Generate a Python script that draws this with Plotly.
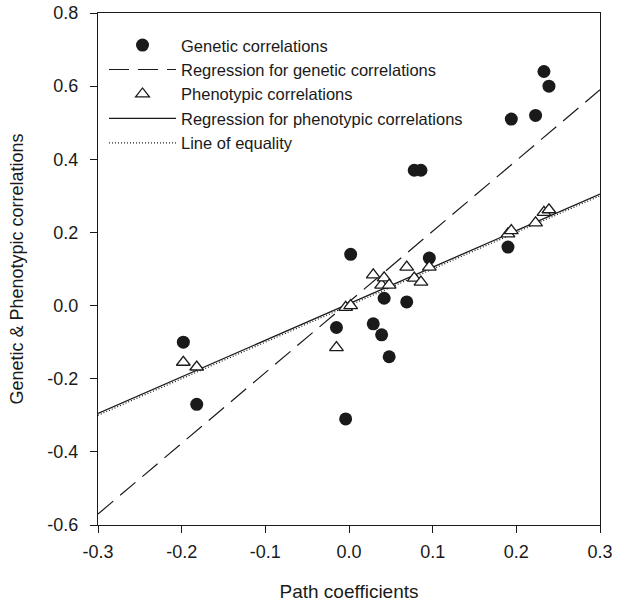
import plotly.graph_objects as go

path_coef = [-0.198, -0.182, -0.015, -0.004, 0.002, 0.029, 0.039, 0.042, 0.048,
             0.069, 0.078, 0.086, 0.096, 0.190, 0.194, 0.223, 0.233, 0.239]
genetic = [-0.10, -0.27, -0.06, -0.31, 0.14, -0.05, -0.08, 0.02, -0.14,
           0.01, 0.37, 0.37, 0.13, 0.16, 0.51, 0.52, 0.64, 0.60]
phenotypic = [-0.155, -0.168, -0.115, -0.005, 0.0, 0.084, 0.056, 0.076, 0.056,
              0.105, 0.075, 0.064, 0.105, 0.196, 0.205, 0.226, 0.255, 0.262]

line_x = [-0.3, 0.3]
gen_reg_y = [-0.57, 0.59]
phen_reg_y = [-0.295, 0.305]
equality_y = [-0.3, 0.3]

x_ticks = [-0.3, -0.2, -0.1, 0.0, 0.1, 0.2, 0.3]
y_ticks = [-0.6, -0.4, -0.2, 0.0, 0.2, 0.4, 0.6, 0.8]

INK = "#1a1a1a"
FONT = "Liberation Sans, Arial, sans-serif"

fig = go.Figure()
fig.add_trace(go.Scatter(x=line_x, y=gen_reg_y, mode="lines",
                         name="Regression for genetic correlations",
                         line=dict(color=INK, width=1.2, dash="20px,9px"),
                         legendrank=2))
fig.add_trace(go.Scatter(x=line_x, y=equality_y, mode="lines",
                         name="Line of equality",
                         line=dict(color=INK, width=1.2, dash="1px,2px"),
                         legendrank=5))
fig.add_trace(go.Scatter(x=line_x, y=phen_reg_y, mode="lines",
                         name="Regression for phenotypic correlations",
                         line=dict(color=INK, width=1.3),
                         legendrank=4))
fig.add_trace(go.Scatter(x=path_coef, y=genetic, mode="markers",
                         name="Genetic correlations",
                         marker=dict(symbol="circle", size=13, color=INK,
                                     line=dict(width=0)),
                         legendrank=1))
fig.add_trace(go.Scatter(x=path_coef, y=phenotypic, mode="markers",
                         name="Phenotypic correlations",
                         marker=dict(symbol="triangle-up", size=12, color="white",
                                     line=dict(color=INK, width=1.3)),
                         legendrank=3))

axis_common = dict(showgrid=False, zeroline=False, showline=True, linecolor=INK,
                   linewidth=1.2, mirror=True, ticks="outside", ticklen=7,
                   tickwidth=1.2, tickcolor=INK, automargin=False,
                   ticklabeloverflow="allow",
                   tickfont=dict(family=FONT, size=18, color=INK))

fig.update_layout(
    width=622, height=602,
    margin=dict(l=98, r=22, t=13, b=77),
    paper_bgcolor="white", plot_bgcolor="white",
    font=dict(family=FONT, size=18, color=INK),
    xaxis=dict(range=[-0.3, 0.3], tickvals=x_ticks,
               ticktext=[f"{v:.1f}" for v in x_ticks],
               title=dict(text="Path coefficients", standoff=24,
                          font=dict(family=FONT, size=19, color=INK)),
               ticklabelstandoff=3, **axis_common),
    yaxis=dict(range=[-0.6, 0.8], tickvals=y_ticks,
               ticktext=[f"{v:.1f}" for v in y_ticks],
               title=dict(text="Genetic &amp; Phenotypic correlations", standoff=18,
                          font=dict(family=FONT, size=18, color=INK)),
               ticklabelstandoff=8, **axis_common),
    legend=dict(x=0.012, y=0.971, xanchor="left", yanchor="top",
                bgcolor="rgba(0,0,0,0)", borderwidth=0, tracegroupgap=0,
                itemwidth=67, font=dict(family=FONT, size=16.5, color=INK)),
    showlegend=True,
)

# Remove the default page margin so the figure sits at the window's corner.
fig.write_html("out.html", config={"displayModeBar": False},
               post_script="document.body.style.margin='0';")
